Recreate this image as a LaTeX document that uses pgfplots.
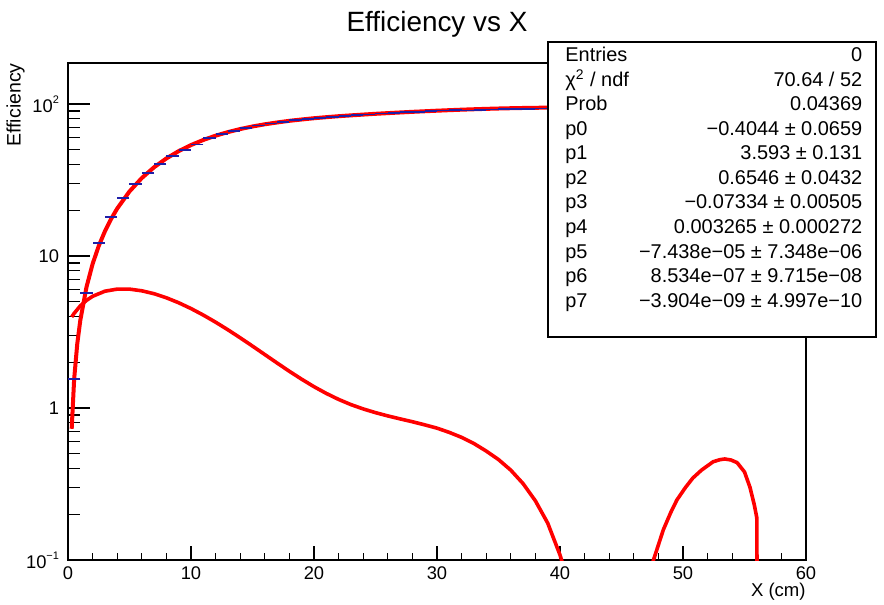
\documentclass[border=0pt]{standalone}
\usepackage{fontspec}
\setmainfont{Liberation Sans}
\usepackage{pgfplots}
\usepackage{pgfplotstable}
\pgfplotsset{compat=1.18}
\definecolor{rootred}{rgb}{1,0,0}
\definecolor{rootblue}{rgb}{0.12,0.12,0.66}

% measured histogram bins (centre, efficiency)
\pgfplotstableread{
x y
0.5 1.55
1.5 5.7
2.5 12.2
3.5 18.0
4.5 24.0
5.5 29.8
6.5 35.0
7.5 40.3
8.5 45.3
9.5 50.0
10.5 54.2
11.5 59.6
12.5 63.3
13.5 66.6
14.5 69.6
15.5 72.1
16.5 74.3
17.5 76.4
18.5 78.1
19.5 79.7
20.5 81.0
21.5 82.3
22.5 83.5
23.5 84.5
24.5 85.5
25.5 86.4
26.5 87.3
27.5 88.2
28.5 88.9
29.5 89.7
30.5 90.4
31.5 90.9
32.5 90.8
33.5 91.4
34.5 92.1
35.5 92.5
36.5 92.6
37.5 92.9
38.5 93.1
39.5 94.0
40.5 94.3
41.5 94.6
42.5 95.0
43.5 94.5
44.5 94.9
45.5 95.2
46.5 94.8
47.5 95.0
48.5 95.3
49.5 94.9
50.5 95.4
51.5 95.1
52.5 95.6
53.5 95.3
54.5 95.8
55.5 95.5
56.5 95.9
57.5 95.4
58.5 95.7
59.5 95.2
}\datatable

% fitted curve
\pgfplotstableread{
x y
0.3 0.730
0.5 1.547
0.75 2.629
1 3.773
1.5 6.226
2 8.863
2.5 11.644
3 14.533
3.5 17.498
4 20.511
5 26.579
6 32.570
7 38.353
8 43.836
9 48.955
10 53.672
11 57.97
12 61.846
13 65.31
14 68.393
15 71.11
16 73.512
17 75.56
18 77.478
19 79.07
20 80.580
21 81.86
22 83.083
23 84.14
24 85.16
25 86.154
26 87.05
27 87.92
28 88.760
29 89.54
30 90.310
31 91.03
32 91.71
33 92.303
34 92.86
35 93.35
36 93.759
37 94.10
38 94.371
39 94.57
40 94.699
42 94.80
45 94.70
48 94.75
51 95.1
54 95.5
57 95.7
60 95.5
}\fittable

% lower curve, first part
\pgfplotstableread{
x y
0.3 3.966
0.5 4.194
1 4.695
1.5 5.104
2 5.430
3 5.864
4 6.055
5 6.054
6 5.901
7 5.646
8 5.309
9 4.923
10 4.509
11 4.086
12 3.669
13 3.270
14 2.896
15 2.554
16 2.247
17 1.977
18 1.743
19 1.546
20 1.381
21 1.247
22 1.139
23 1.053
24 0.986
25 0.932
26 0.887
27 0.848
28 0.812
29 0.775
30 0.737
31 0.691
32 0.641
33 0.584
34 0.521
35 0.458
36 0.390
37 0.318
38 0.245
39 0.175
40 0.108
40.6 0.075
}\lowA

% lower curve, second part
\pgfplotstableread{
x y
47.4 0.089
47.6 0.100
48.4 0.158
49.0 0.205
49.5 0.248
50.2 0.300
50.8 0.346
51.5 0.390
52.45 0.443
53.0 0.457
53.4 0.462
53.9 0.455
54.4 0.437
55.0 0.380
55.45 0.300
55.8 0.230
56.0 0.190
56.03 0.050
}\lowB

\begin{document}
\begin{tikzpicture}
\path[use as bounding box] (0bp,0bp) rectangle (442bp,-302.5bp);
\begin{axis}[
  at={(34bp,-280bp)}, anchor=south west,
  scale only axis, width=369bp, height=248.5bp,
  xmin=0, xmax=60, ymode=log, ymin=0.1, ymax=186,
  axis line style={line width=0.6bp},
  xtick={0,10,20,30,40,50,60},
  minor x tick num=4,
  ytick={0.1,1,10,100},
  yticklabels={10\raisebox{0.5em}{\fontsize{5.5}{6}\selectfont −1},1,10,10\raisebox{0.5em}{\fontsize{5.5}{6}\selectfont 2}},
  minor ytick={0.2,0.3,0.4,0.5,0.6,0.7,0.8,0.9,2,3,4,5,6,7,8,9,20,30,40,50,60,70,80,90},
  xtick pos=bottom, ytick pos=left,
  tick style={black, line width=0.6bp},
  xtick style={/pgfplots/major tick length=7bp, /pgfplots/minor tick length=3.5bp},
  ytick style={/pgfplots/major tick length=11bp, /pgfplots/minor tick length=6bp},
  /pgf/number format/assume math mode=true,
  tick label style={font=\fontsize{9.2}{10}\selectfont},
  yticklabel style={xshift=-1bp},
  title={Efficiency vs X},
  title style={font=\fontsize{14}{16}\selectfont, at={(axis description cs:0.5,1)}, anchor=base, yshift=9.6bp},
  xlabel={X (cm)},
  xlabel style={font=\fontsize{9.3}{10}\selectfont, at={(axis description cs:1,0)}, anchor=north east, yshift=-11.5bp, inner sep=0pt},
  ylabel={Efficiency},
  ylabel style={font=\fontsize{9.8}{11}\selectfont, at={(axis description cs:-0.0583,1)}, anchor=south east, inner sep=0pt},
  clip=true,
]
\addplot[rootblue, only marks, mark=-, mark size=3.075bp,
  mark options={line width=0.8bp, rootblue}] table {\datatable};
\addplot[rootred, line width=2bp, line join=round] table {\fittable};
\addplot[rootred, line width=1.8bp, line join=round] table {\lowA};
\addplot[rootred, line width=1.8bp, line join=round] table {\lowB};
\end{axis}
% statistics box
\draw[line width=0.6bp, fill=white] (274bp,-21bp) rectangle (438bp,-168.5bp);
\begin{scope}[every node/.style={font=\fontsize{10}{11}\selectfont, inner sep=0pt}]
\foreach \i/\n/\v in {0/Entries/0,
  1/{χ\textsuperscript{2} / ndf}/{70.64 / 52},
  2/Prob/0.04369,
  3/p0/{−0.4044 ± 0.0659},
  4/p1/{3.593 ± 0.131},
  5/p2/{0.6546 ± 0.0432},
  6/p3/{−0.07334 ± 0.00505},
  7/p4/{0.003265 ± 0.000272},
  8/p5/{−7.438e−05 ± 7.348e−06},
  9/p6/{8.534e−07 ± 9.715e−08},
  10/p7/{−3.904e−09 ± 4.997e−10}}{
  \node[anchor=base west] at (282.5bp,{-30.85bp-12.27bp*\i}) {\n};
  \node[anchor=base east] at (431.3bp,{-30.85bp-12.27bp*\i}) {\v};
}
\end{scope}
\end{tikzpicture}
\end{document}
